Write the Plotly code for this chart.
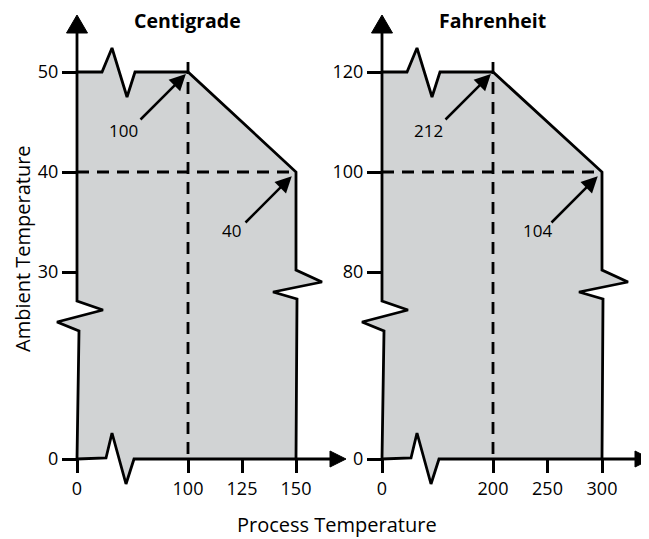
import numpy as np
import plotly.graph_objects as go

# ---------------- data ----------------
panel_titles = ["Centigrade", "Fahrenheit"]

c_x_ticks = [0, 100, 125, 150]
c_y_ticks = [0, 30, 40, 50]
f_x_ticks = [0, 200, 250, 300]
f_y_ticks = [0, 80, 100, 120]

# operating envelope corners (process temp, ambient temp)
c_env_x = [0, 100, 150, 150]
c_env_y = [50, 50, 40, 0]
f_env_x = [0, 200, 300, 300]
f_env_y = [120, 120, 100, 0]

c_callouts = ["100", "40"]
f_callouts = ["212", "104"]

x_title = "Process Temperature"
y_title = "Ambient Temperature"

# ---------------- broken-axis scale (schematic px units) ----------------
X_GAP, Y_GAP = 111, 187          # compressed span from 0 to first non-zero tick
C_XU, F_XU = 2.16, 1.09          # px per degree after the break
C_YU, F_YU = 10.0, 5.0


def broken(v, ticks, per_unit, gap):
    v = np.asarray(v, dtype=float)
    first = ticks[1]
    return np.where(v < first, v / first * gap, gap + (v - first) * per_unit)


FONT = "'Open Sans', sans-serif"
LW = 2.8
FILL = "#d1d3d4"
WIN_W, WIN_H = 649, 539
OFF = 8                               # page body margin
W, H = WIN_W - OFF, WIN_H - OFF       # figure size
ORIG_PX = [(77, 459), (382, 459)]     # axis origins in window pixels

panels = [
    dict(title=panel_titles[0], xt=c_x_ticks, yt=c_y_ticks, ex=c_env_x, ey=c_env_y,
         xu=C_XU, yu=C_YU, call=c_callouts, xa="x", ya="y"),
    dict(title=panel_titles[1], xt=f_x_ticks, yt=f_y_ticks, ex=f_env_x, ey=f_env_y,
         xu=F_XU, yu=F_YU, call=f_callouts, xa="x2", ya="y2"),
]

# break ornaments (pixel offsets)
LEFT_BREAK = [(2, 128), (-20, 137), (26, 149), (0, 158)]
BOTTOM_BREAK = [(29, 1), (35, 26), (49, -25), (57, 0)]
TOP_BREAK = [(25, 0), (35, 24), (50, -25), (58, 0)]
RIGHT_BREAK = [(0, 2), (26, -10), (-23, -20), (1, -27)]

fig = go.Figure()
annotations = []
layout_axes = {}

for i, p in enumerate(panels):
    X = broken(p["ex"], p["xt"], p["xu"], X_GAP)
    Y = broken(p["ey"], p["yt"], p["yu"], Y_GAP)
    xt_pos = broken(p["xt"], p["xt"], p["xu"], X_GAP)
    yt_pos = broken(p["yt"], p["yt"], p["yu"], Y_GAP)
    y_brk = float(yt_pos[1])

    top = [(X[0], Y[0])] + [(X[0] + dx, Y[0] + dy) for dx, dy in TOP_BREAK] + \
          [(X[1], Y[1]), (X[2], Y[2])] + \
          [(X[2] + dx, y_brk + dy) for dx, dy in RIGHT_BREAK] + [(X[3], Y[3])]
    left = [(0, 0)] + LEFT_BREAK + [(0, Y[0])]
    bottom = [(0, 0)] + BOTTOM_BREAK

    poly = left + top[1:] + bottom[::-1][:-1] + [(0, 0)]
    px_, py_ = zip(*poly)
    common = dict(xaxis=p["xa"], yaxis=p["ya"], showlegend=False, hoverinfo="skip",
                  cliponaxis=False)
    fig.add_trace(go.Scatter(x=px_, y=py_, fill="toself", fillcolor=FILL,
                             mode="lines", line=dict(width=0), **common))

    # dashed guides
    fig.add_trace(go.Scatter(x=[X[1], X[1]], y=[Y[1] + 10, 0], mode="lines",
                             line=dict(color="black", width=LW, dash="12px,8px"), **common))
    fig.add_trace(go.Scatter(x=[0, X[2]], y=[Y[2], Y[2]], mode="lines",
                             line=dict(color="black", width=LW, dash="12px,8px"), **common))

    # envelope outline
    tx, ty = zip(*top)
    fig.add_trace(go.Scatter(x=tx, y=ty, mode="lines",
                             line=dict(color="black", width=LW), **common))

    # axes lines with breaks
    ax_y = left[:-1] + [(0, 426)]
    ax_x = bottom + [(253, 0)]
    for seg in (ax_y, ax_x):
        sx, sy = zip(*seg)
        fig.add_trace(go.Scatter(x=sx, y=sy, mode="lines",
                                 line=dict(color="black", width=LW), **common))
    # arrowheads
    fig.add_trace(go.Scatter(x=[-10.5, 10.5, 0, -10.5], y=[426, 426, 444, 426], mode="lines",
                             fill="toself", fillcolor="black", line=dict(color="black", width=1),
                             **common))
    fig.add_trace(go.Scatter(x=[253, 253, 269, 253], y=[-8, 8, 0, -8], mode="lines",
                             fill="toself", fillcolor="black", line=dict(color="black", width=1),
                             **common))

    # callouts
    for (cx, cy), txt, off, so in zip([(X[1], Y[1]), (X[2], Y[2])], p["call"],
                                      [49, 52], [3, 6]):
        annotations.append(dict(x=cx, y=cy, xref=p["xa"], yref=p["ya"], text="",
                                showarrow=True, ax=-off, ay=off, arrowhead=2,
                                arrowsize=1.3, arrowwidth=2.5, arrowcolor="black",
                                standoff=so))
        annotations.append(dict(x=cx, y=cy, xref=p["xa"], yref=p["ya"], text=txt,
                                showarrow=False, xshift=-65, yshift=-58,
                                font=dict(family=FONT, size=17, color="black")))
    # title
    annotations.append(dict(x=110, y=439, xref=p["xa"], yref=p["ya"],
                            text="<b>%s</b>" % p["title"], showarrow=False,
                            font=dict(family=FONT, size=19.5, color="black")))

    ox, oy = ORIG_PX[i]
    sfx = "" if i == 0 else "2"
    layout_axes["xaxis" + sfx] = dict(
        domain=[0, 1], range=[OFF - ox, WIN_W - ox], anchor="free",
        position=(WIN_H - oy) / H,
        showgrid=False, zeroline=False, showline=False,
        tickmode="array", tickvals=list(xt_pos), ticktext=[str(t) for t in p["xt"]],
        ticks="outside", ticklen=13, tickwidth=2.5, tickcolor="black",
        tickfont=dict(family=FONT, size=18, color="black"), fixedrange=True)
    layout_axes["yaxis" + sfx] = dict(
        domain=[0, 1], range=[oy - WIN_H, oy - OFF], anchor="free",
        position=(ox - OFF) / W,
        showgrid=False, zeroline=False, showline=False,
        tickmode="array", tickvals=list(yt_pos), ticktext=[str(t) for t in p["yt"]],
        ticks="outside", ticklen=15, tickwidth=2.5, tickcolor="black",
        tickfont=dict(family=FONT, size=18, color="black"), fixedrange=True)


def paper_x(px):
    return (px - OFF) / W


def paper_y(py):
    return 1 - (py - OFF) / H


annotations.append(dict(x=paper_x(22), y=paper_y(249), xref="paper", yref="paper",
                        text=y_title, textangle=-90, showarrow=False,
                        xanchor="center", yanchor="middle",
                        font=dict(family=FONT, size=20, color="black")))
annotations.append(dict(x=paper_x(337), y=paper_y(524), xref="paper", yref="paper",
                        text=x_title, showarrow=False, xanchor="center", yanchor="middle",
                        font=dict(family=FONT, size=20, color="black")))

fig.update_layout(width=W, height=H, autosize=False,
                  margin=dict(l=0, r=0, t=0, b=0, pad=0),
                  paper_bgcolor="white", plot_bgcolor="rgba(0,0,0,0)",
                  annotations=annotations, **layout_axes)

fig.write_html("out.html")
